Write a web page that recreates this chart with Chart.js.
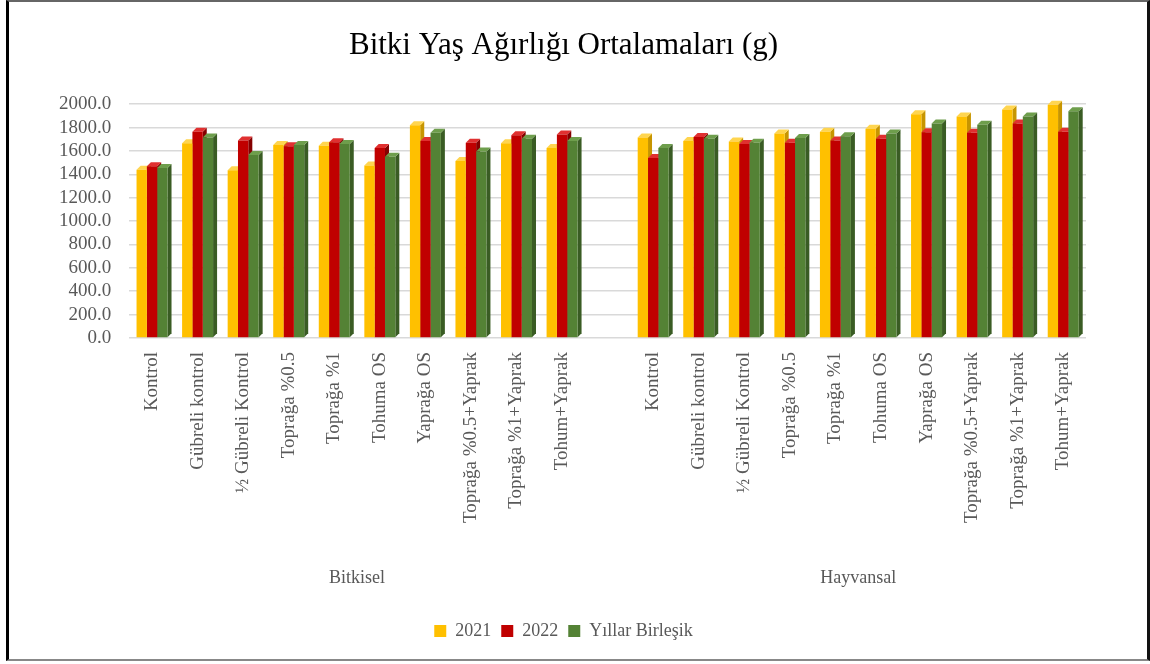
<!DOCTYPE html>
<html>
<head>
<meta charset="utf-8">
<script src="https://cdn.jsdelivr.net/npm/chart.js@4/dist/chart.umd.min.js"></script>
<style>
  body { margin: 0; background: #fff; }
  #wrap { position: relative; width: 1150px; height: 664px; }
  #frame {
    position: absolute; left: 6px; top: 0; width: 1138px; height: 657px;
    border-left: 3px solid #000; border-right: 3px solid #111;
    border-top: 2px solid #666; border-bottom: 2px solid #888;
    pointer-events: none;
  }
</style>
</head>
<body>
<div id="wrap">
  <canvas id="chart1" width="1150" height="664"></canvas>
  <div id="frame"></div>
</div>
<script>
const treatments = ["Kontrol", "Gübreli kontrol", "½ Gübreli Kontrol", "Toprağa %0.5", "Toprağa %1",
  "Tohuma OS", "Yaprağa OS", "Toprağa %0.5+Yaprak", "Toprağa %1+Yaprak", "Tohum+Yaprak"];
const groups = ["Bitkisel", "Hayvansal"];
const seriesNames = ["2021", "2022", "Yıllar Birleşik"];
const yTicks = [0, 200, 400, 600, 800, 1000, 1200, 1400, 1600, 1800, 2000];

const bitkisel2021 = [1440, 1665, 1435, 1650, 1645, 1475, 1820, 1515, 1665, 1625];
const bitkisel2022 = [1470, 1765, 1690, 1640, 1675, 1625, 1685, 1670, 1735, 1740];
const bitkiselBirlesik = [1455, 1715, 1565, 1650, 1660, 1550, 1755, 1595, 1705, 1685];
const hayvansal2021 = [1715, 1685, 1680, 1750, 1765, 1790, 1915, 1895, 1955, 1995];
const hayvansal2022 = [1540, 1720, 1660, 1670, 1690, 1705, 1760, 1755, 1835, 1765];
const hayvansalBirlesik = [1625, 1705, 1670, 1710, 1725, 1750, 1835, 1825, 1895, 1940];

// colours: front, top, side
const colors = [
  ["#FFC000", "#FFD54F", "#C79500"],
  ["#C00000", "#E03030", "#850000"],
  ["#548235", "#6E9E4C", "#3A5C24"],
];

// one empty slot between the two groups
const labels = treatments.concat([""], treatments);
const join = (a, b) => a.concat([null], b);
const values = [
  join(bitkisel2021, hayvansal2021),
  join(bitkisel2022, hayvansal2022),
  join(bitkiselBirlesik, hayvansalBirlesik),
];

const serif = "'Liberation Serif', 'Times New Roman', serif";
const DX = 4, DY = 4;

// fake the excel 3d look: side and top of each bar, drawn before the fronts
const depthPlugin = {
  id: "depth",
  beforeDatasetsDraw(chart) {
    const ctx = chart.ctx;
    ctx.save();
    chart.data.datasets.forEach((ds, di) => {
      const meta = chart.getDatasetMeta(di);
      meta.data.forEach((bar, i) => {
        if (ds.data[i] == null) return;
        const half = bar.width / 2;
        const l = bar.x - half, r = bar.x + half, t = bar.y, b = bar.base;
        ctx.fillStyle = colors[di][2];
        ctx.beginPath();
        ctx.moveTo(r, t); ctx.lineTo(r + DX, t - DY); ctx.lineTo(r + DX, b - DY); ctx.lineTo(r, b);
        ctx.closePath(); ctx.fill();
        ctx.fillStyle = colors[di][1];
        ctx.beginPath();
        ctx.moveTo(l, t); ctx.lineTo(l + DX, t - DY); ctx.lineTo(r + DX, t - DY); ctx.lineTo(r, t);
        ctx.closePath(); ctx.fill();
      });
    });
    ctx.restore();
  },
};

const groupLabelPlugin = {
  id: "groupLabels",
  afterDraw(chart) {
    const ctx = chart.ctx;
    const x = chart.scales.x;
    ctx.save();
    ctx.font = "18px " + serif;
    ctx.fillStyle = "#595959";
    ctx.textAlign = "center";
    ctx.textBaseline = "middle";
    groups.forEach((g, gi) => {
      const first = gi * (treatments.length + 1);
      const last = first + treatments.length - 1;
      ctx.fillText(g, (x.getPixelForValue(first) + x.getPixelForValue(last)) / 2, 578);
    });
    ctx.restore();
  },
};

var ctx = document.getElementById("chart1").getContext("2d");
var myChart = new Chart(ctx, {
  type: "bar",
  data: {
    labels: labels,
    datasets: seriesNames.map((name, i) => ({
      label: name,
      data: values[i],
      backgroundColor: colors[i][0],
      borderWidth: 0,
    })),
  },
  options: {
    responsive: false,
    animation: false,
    layout: { padding: { left: 41, right: 64, top: 8, bottom: 14 } },
    datasets: { bar: { categoryPercentage: 0.68, barPercentage: 1 } },
    plugins: {
      title: {
        display: true,
        text: "Bitki Yaş Ağırlığı Ortalamaları (g)",
        color: "#000",
        font: { family: serif, size: 31, weight: "normal" },
        padding: { top: 19, bottom: 40 },
      },
      legend: {
        position: "bottom",
        labels: {
          boxWidth: 12,
          boxHeight: 12,
          padding: 10,
          color: "#595959",
          font: { family: serif, size: 18 },
        },
      },
      tooltip: { enabled: false },
    },
    scales: {
      x: {
        grid: { display: false },
        border: { display: false },
        ticks: {
          autoSkip: false,
          maxRotation: 90,
          minRotation: 90,
          padding: 6,
          color: "#595959",
          font: { family: serif, size: 19 },
        },
        afterFit(scale) {
          scale.height = 274;
        },
      },
      y: {
        min: 0,
        max: 2000,
        afterBuildTicks(scale) {
          scale.ticks = yTicks.map((v) => ({ value: v }));
        },
        grid: { color: "#d9d9d9", lineWidth: 1.5, drawTicks: false },
        border: { display: false },
        ticks: {
          autoSkip: false,
          padding: 18,
          color: "#595959",
          font: { family: serif, size: 19 },
          callback: (v) => v.toFixed(1),
        },
      },
    },
  },
  plugins: [depthPlugin, groupLabelPlugin],
});
</script>
</body>
</html>
